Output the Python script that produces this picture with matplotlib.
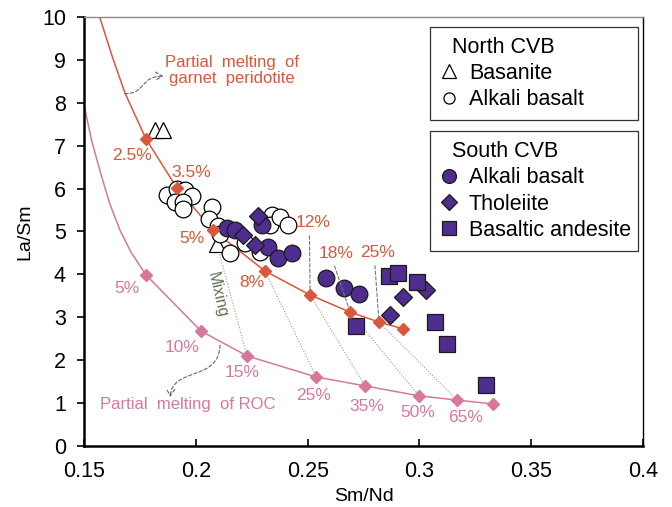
import matplotlib
matplotlib.use("Agg")
import matplotlib.pyplot as plt
from matplotlib.lines import Line2D
from matplotlib.patches import FancyArrowPatch
from matplotlib.path import Path
from matplotlib.ticker import FormatStrFormatter

plt.rcParams["font.family"] = ["Liberation Sans", "DejaVu Sans"]

# --- data ---
# partial melting of garnet peridotite (curve vertices + marked steps)
gp_curve_x = [0.157, 0.1625, 0.1683, 0.1777, 0.1916, 0.2077, 0.2309, 0.2511, 0.269, 0.2819, 0.2927]
gp_curve_y = [10.0, 9.1, 8.23, 7.16, 6.01, 5.03, 4.08, 3.52, 3.12, 2.89, 2.73]
gp_x = [0.1777, 0.1916, 0.2077, 0.2309, 0.2511, 0.269, 0.2819, 0.2927]
gp_y = [7.16, 6.01, 5.03, 4.08, 3.52, 3.12, 2.89, 2.73]
gp_labels = ["2.5%", "3.5%", "5%", "8%", "12%", "18%", "25%", ""]

# partial melting of ROC
roc_curve_x = [0.15, 0.1535, 0.1575, 0.1615, 0.1661, 0.171, 0.1777, 0.2023, 0.2229, 0.2538,
               0.2757, 0.2998, 0.3168, 0.3329]
roc_curve_y = [7.95, 7.1, 6.35, 5.65, 5.03, 4.52, 3.99, 2.68, 2.10, 1.61,
               1.40, 1.17, 1.07, 0.98]
roc_x = [0.1777, 0.2023, 0.2229, 0.2538, 0.2757, 0.2998, 0.3168, 0.3329]
roc_y = [3.99, 2.68, 2.10, 1.61, 1.40, 1.17, 1.07, 0.98]
roc_labels = ["5%", "10%", "15%", "25%", "35%", "50%", "65%", ""]

# mixing lines: (peridotite step index, ROC step index)
mixing_pairs = [(2, 2), (3, 3), (4, 4), (5, 5), (6, 6)]

# North CVB
n_basanite_x = [0.1818, 0.1853, 0.2095]
n_basanite_y = [7.37, 7.37, 4.70]
n_alkali_x = [0.1871, 0.1916, 0.1952, 0.1983, 0.1907, 0.1943, 0.1943, 0.2072, 0.2059,
              0.2099, 0.2108, 0.2153, 0.2220, 0.2287, 0.2341, 0.2332, 0.2377, 0.2412]
n_alkali_y = [5.85, 5.99, 5.97, 5.83, 5.69, 5.69, 5.52, 5.57, 5.29,
              5.13, 4.94, 4.50, 4.73, 4.52, 5.38, 5.15, 5.34, 5.15]

# South CVB
s_alkali_x = [0.2140, 0.2175, 0.2296, 0.2323, 0.2368, 0.2430, 0.2582, 0.2663, 0.2730]
s_alkali_y = [5.08, 5.03, 5.15, 4.64, 4.38, 4.50, 3.92, 3.68, 3.54]
s_thol_x = [0.2278, 0.2211, 0.2265, 0.2927, 0.3030, 0.2869]
s_thol_y = [5.36, 4.92, 4.69, 3.47, 3.64, 3.05]
s_band_x = [0.2864, 0.2904, 0.2989, 0.2716, 0.3070, 0.3123, 0.3298]
s_band_y = [3.96, 4.03, 3.82, 2.80, 2.89, 2.38, 1.42]

# --- styling ---
orange = "#d9573a"
pink = "#d7789b"
purple = "#4f2d8f"
mixc = "#8fa67f"

gp_offsets = [(-10, -12), (10, 11.5), (-15, -6), (-9.5, -8.5), (2, 52), (-10, 42.5), (-0.7, 50), (0, 0)]
roc_offsets = [(-13.7, -10), (-13.7, -11.5), (-3.6, -12.2), (-2.2, -13.7), (1.4, -15), (-0.7, -12.2), (6.5, -12.2), (0, 0)]

fig = plt.figure(figsize=(6.72, 5.07), dpi=100)
ax = fig.add_axes([0.125, 0.1203, 0.832, 0.8462])

# mixing lines
for i, j in mixing_pairs:
    ax.plot([gp_x[i], roc_x[j]], [gp_y[i], roc_y[j]], ls=(0, (1, 1.5)), lw=0.8, color=mixc, zorder=1)

# curves
ax.plot(gp_curve_x, gp_curve_y, color=orange, lw=1.1, zorder=1)
ax.plot(roc_curve_x, roc_curve_y, color=pink, lw=1.1, zorder=1)

# samples
ax.plot(n_basanite_x, n_basanite_y, "^", ms=11, mfc="white", mec="black", mew=0.9, zorder=2)
ax.plot(n_alkali_x, n_alkali_y, "o", ms=12, mfc="white", mec="black", mew=0.9, zorder=2)
ax.plot(s_alkali_x, s_alkali_y, "o", ms=12, mfc=purple, mec="#1a1a1a", mew=0.9, zorder=3)
ax.plot(s_thol_x, s_thol_y, "D", ms=8.8, mfc=purple, mec="#1a1a1a", mew=0.9, zorder=3)
ax.plot(s_band_x, s_band_y, "s", ms=12, mfc=purple, mec="#1a1a1a", mew=0.9, zorder=3)

# melting steps
ax.plot(gp_x, gp_y, "D", ms=6, color=orange, zorder=4)
ax.plot(roc_x, roc_y, "D", ms=6.5, color=pink, zorder=4)

for x, y, lab, off in zip(gp_x, gp_y, gp_labels, gp_offsets):
    if not lab:
        continue
    if off[1] > 30:
        ax.annotate(lab, (x, y), xytext=off, textcoords="offset points", ha="center", va="center",
                    fontsize=12.5, color=orange,
                    arrowprops=dict(arrowstyle="-", ls=(0, (3, 2)), lw=0.8, color="#777777",
                                    relpos=(0.4, 0.0), shrinkA=2, shrinkB=4))
    else:
        ax.annotate(lab, (x, y), xytext=off, textcoords="offset points", ha="center", va="center",
                    fontsize=12.5, color=orange)

for x, y, lab, off in zip(roc_x, roc_y, roc_labels, roc_offsets):
    if lab:
        ax.annotate(lab, (x, y), xytext=off, textcoords="offset points", ha="center", va="center",
                    fontsize=12.5, color=pink)

# curve names and pointer arrows
ax.text(0.2162, 8.76, "Partial  melting  of\ngarnet  peridotite", color=orange, fontsize=12,
        ha="center", va="center", linespacing=1.1)
arrow_kw = dict(arrowstyle="->,head_length=5,head_width=3", ls=(0, (3, 2)), lw=0.8,
                color="#666666", zorder=5)
path_gp = Path([(0.1683, 8.21), (0.178, 8.22), (0.175, 8.62), (0.1855, 8.62)],
               [Path.MOVETO, Path.CURVE4, Path.CURVE4, Path.CURVE4])
ax.add_patch(FancyArrowPatch(path=path_gp, **arrow_kw))
ax.text(0.1965, 0.96, "Partial  melting  of ROC", color=pink, fontsize=12, ha="center", va="center")
path_roc = Path([(0.2108, 2.35), (0.2105, 1.5), (0.1895, 1.85), (0.1885, 1.14)],
                [Path.MOVETO, Path.CURVE4, Path.CURVE4, Path.CURVE4])
ax.add_patch(FancyArrowPatch(path=path_roc, **arrow_kw))
ax.text(0.2095, 3.52, "Mixing", color="#5f7356", fontsize=11.5, rotation=-77,
        ha="center", va="center")

# axes
ax.set_xlim(0.15, 0.4)
ax.set_ylim(0, 10)
ax.set_xticks([0.15, 0.2, 0.25, 0.3, 0.35, 0.4])
ax.set_yticks(range(0, 11))
ax.xaxis.set_major_formatter(FormatStrFormatter("%g"))
ax.tick_params(axis="x", direction="in", length=5, width=1.2, labelsize=15.5, pad=11)
ax.tick_params(axis="y", direction="out", length=5, width=1.2, labelsize=15.5, pad=8)
ax.set_xlabel("Sm/Nd", fontsize=14, labelpad=4)
ax.set_ylabel("La/Sm", fontsize=14, labelpad=6)
ax.spines["left"].set_linewidth(1.8)
ax.spines["bottom"].set_linewidth(1.8)
ax.spines["right"].set_linewidth(1.0)
ax.spines["top"].set_linewidth(1.0)
ax.spines["top"].set_color("#888888")

# legends
leg_kw = dict(loc="upper left", mode="expand", fontsize=15.5, title_fontsize=15.5, frameon=True,
              fancybox=False, framealpha=1, edgecolor="#333333", borderaxespad=0,
              handlelength=0.9, handletextpad=0.45, labelspacing=0.25, borderpad=0.45,
              alignment="left")
north_handles = [
    Line2D([], [], ls="", marker="^", ms=10, mfc="white", mec="black", mew=0.9),
    Line2D([], [], ls="", marker="o", ms=8, mfc="white", mec="black", mew=0.9),
]
leg1 = ax.legend(north_handles, ["Basanite", "Alkali basalt"], title="  North CVB",
                 bbox_to_anchor=(0.619, 0.748, 0.372, 0.229), **leg_kw)
leg1.get_frame().set_linewidth(0.9)
ax.add_artist(leg1)
south_handles = [
    Line2D([], [], ls="", marker="o", ms=10, mfc=purple, mec="#1a1a1a", mew=0.9),
    Line2D([], [], ls="", marker="D", ms=8, mfc=purple, mec="#1a1a1a", mew=0.9),
    Line2D([], [], ls="", marker="s", ms=10, mfc=purple, mec="#1a1a1a", mew=0.9),
]
leg2 = ax.legend(south_handles, ["Alkali basalt", "Tholeiite", "Basaltic andesite"],
                 title="  South CVB", bbox_to_anchor=(0.619, 0.464, 0.372, 0.27), **leg_kw)
leg2.get_frame().set_linewidth(0.9)

fig.savefig("out.png", dpi=100)
